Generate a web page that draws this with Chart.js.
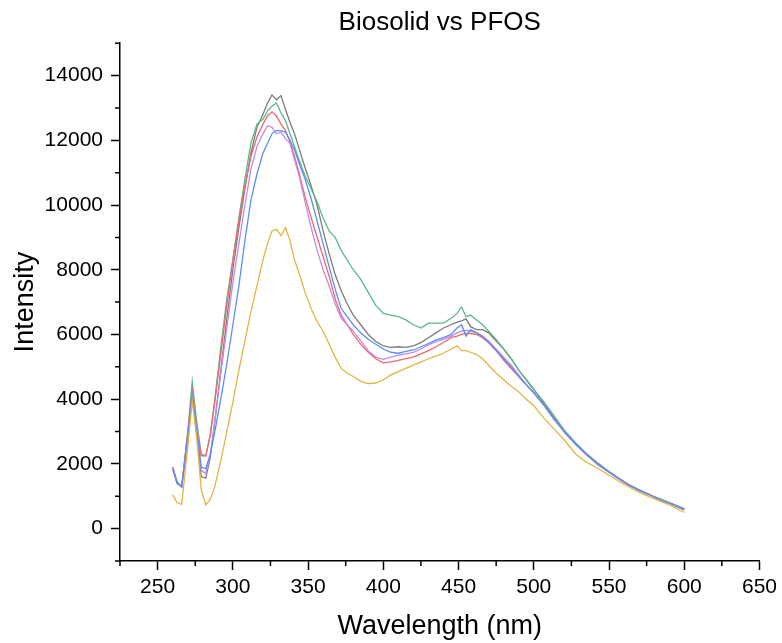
<!DOCTYPE html>
<html>
<head>
<meta charset="utf-8">
<script src="https://cdn.jsdelivr.net/npm/chart.js@4/dist/chart.umd.min.js"></script>
<style>
  html, body { margin: 0; padding: 0; background: #fff; }
</style>
</head>
<body>
<canvas id="spectra" width="782" height="643"></canvas>
<script>
// wavelengths (nm) shared by all curves
const wavelengths = [260, 263, 266, 270, 273, 276, 279, 282, 285, 288, 292, 296, 300, 304, 308, 312, 316, 320, 323, 326,
  329, 332, 335, 338, 341, 344, 348, 352, 356, 360, 364, 368, 372, 376, 380, 385, 390, 395, 400, 405,
  410, 415, 420, 425, 430, 435, 440, 445, 449, 452, 455, 458, 462, 466, 470, 475, 480, 485, 490, 495,
  500, 507, 514, 521, 528, 535, 542, 549, 556, 563, 570, 577, 584, 591, 600]

const graySeries = [1900, 1450, 1280, 2900, 4200, 3000, 1600, 1560, 2200, 3300, 4900, 6500, 8000, 9300, 10500, 11600, 12400, 12800, 13150, 13400,
  13250, 13380, 12950, 12550, 12200, 11750, 11150, 10600, 10000, 9200, 8500, 7850, 7350, 6950, 6600, 6300, 6000, 5780, 5650, 5600,
  5620, 5600, 5650, 5750, 5900, 6050, 6200, 6300, 6380, 6420, 6480, 6240, 6150, 6150, 6050, 5800, 5550, 5250, 4900, 4600,
  4300, 3850, 3400, 2950, 2600, 2300, 2030, 1780, 1560, 1350, 1200, 1050, 900, 780, 600]

const greenSeries = [1850, 1400, 1300, 3000, 4550, 3300, 2300, 2250, 2900, 4000, 5600, 7100, 8300, 9600, 10800, 11900, 12500, 12650, 12900, 13050,
  13150, 12850, 12600, 12200, 11800, 11400, 10900, 10500, 10100, 9600, 9200, 9000, 8600, 8300, 8000, 7700, 7300, 6900, 6650, 6600,
  6550, 6450, 6300, 6200, 6350, 6350, 6350, 6500, 6650, 6850, 6550, 6600, 6450, 6300, 6100, 5850, 5550, 5250, 4900, 4600,
  4300, 3900, 3450, 3000, 2650, 2320, 2050, 1800, 1570, 1370, 1200, 1050, 920, 790, 620]

const redSeries = [1900, 1400, 1300, 2900, 4250, 3100, 2250, 2250, 2900, 3900, 5400, 6900, 8300, 9500, 10600, 11500, 12100, 12500, 12750, 12880,
  12750, 12500, 12300, 11950, 11500, 11000, 10250, 9620, 9010, 8400, 7800, 7100, 6600, 6300, 6000, 5700, 5450, 5250, 5120, 5150,
  5200, 5250, 5300, 5400, 5500, 5620, 5750, 5900, 5950, 6000, 6030, 6030, 6000, 5900, 5750, 5500, 5200, 4950, 4700, 4450,
  4200, 3800, 3350, 2950, 2600, 2300, 2020, 1780, 1560, 1360, 1180, 1040, 900, 770, 600]

const purpleSeries = [1880, 1400, 1280, 2700, 4100, 3000, 1800, 1700, 2300, 3300, 4800, 6200, 7600, 8800, 10000, 11100, 11800, 12200, 12450, 12400,
  12200, 12250, 12050, 11900, 11400, 10900, 10100, 9300, 8600, 8000, 7500, 6950, 6500, 6300, 6100, 5800, 5500, 5300, 5230, 5300,
  5360, 5400, 5450, 5550, 5680, 5780, 5850, 5950, 6050, 6100, 6130, 6100, 6050, 5950, 5800, 5550, 5300, 5050, 4750, 4450,
  4200, 3800, 3350, 2950, 2600, 2280, 2000, 1770, 1550, 1350, 1180, 1040, 890, 770, 580]

const blueSeries = [1850, 1400, 1300, 2800, 4100, 3000, 1900, 1850, 2300, 3000, 4000, 5100, 6300, 7500, 8900, 10150, 10950, 11600, 11900, 12200,
  12300, 12300, 12250, 12000, 11700, 11300, 10800, 10200, 9500, 8800, 8090, 7400, 6800, 6550, 6300, 6050, 5850, 5700, 5550, 5450,
  5420, 5480, 5520, 5620, 5720, 5830, 5900, 6000, 6200, 6300, 5950, 6150, 6050, 5930, 5750, 5500, 5250, 5000, 4700, 4450,
  4200, 3800, 3350, 2950, 2600, 2300, 2000, 1780, 1560, 1350, 1180, 1040, 890, 770, 580]

const yellowSeries = [1050, 800, 750, 2500, 3950, 2800, 1200, 730, 900, 1300, 2100, 3000, 3900, 4900, 5800, 6700, 7500, 8300, 8800, 9200,
  9250, 9050, 9300, 8900, 8300, 7900, 7300, 6800, 6400, 6100, 5700, 5300, 4950, 4800, 4700, 4550, 4480, 4500, 4600, 4750,
  4850, 4950, 5050, 5150, 5250, 5330, 5420, 5550, 5650, 5500, 5500, 5450, 5380, 5250, 5050, 4800, 4600, 4400, 4230, 4000,
  3800, 3400, 3050, 2700, 2300, 2050, 1880, 1680, 1480, 1300, 1130, 980, 850, 720, 500]

// tick labels
const xTickValues = [250, 300, 350, 400, 450, 500, 550, 600, 650]
const yTickValues = [0, 2000, 4000, 6000, 8000, 10000, 12000, 14000]

const seriesList = [
  { name: "yellow", values: yellowSeries, color: "#e3b440" },
  { name: "blue", values: blueSeries, color: "#5a8ef5" },
  { name: "purple", values: purpleSeries, color: "#c48ae8" },
  { name: "red", values: redSeries, color: "#f2666e" },
  { name: "green", values: greenSeries, color: "#5cb887" },
  { name: "gray", values: graySeries, color: "#7d7d7d" }
]

const fontFamily = "'Liberation Sans', Arial, sans-serif"

// Origin style minor ticks, drawn through the scales
const minorTicks = {
  id: "minorTicks",
  afterDraw(chart) {
    const ctx = chart.ctx
    const xs = chart.scales.x
    const ys = chart.scales.y
    const area = chart.chartArea
    ctx.save()
    ctx.strokeStyle = "#000"
    ctx.lineWidth = 1.5
    ctx.beginPath()
    for (let v = 225; v <= 650; v += 50) {
      const px = xs.getPixelForValue(v)
      ctx.moveTo(px, area.bottom)
      ctx.lineTo(px, area.bottom + 5)
    }
    for (let v = -1000; v <= 15000; v += 2000) {
      const py = ys.getPixelForValue(v)
      ctx.moveTo(area.left, py)
      ctx.lineTo(area.left - 5, py)
    }
    ctx.stroke()
    ctx.restore()
  }
}

new Chart(document.getElementById("spectra"), {
  type: "line",
  data: {
    datasets: seriesList.map(s => ({
      label: s.name,
      data: s.values.map((v, i) => ({ x: wavelengths[i], y: v })),
      borderColor: s.color,
      borderWidth: 1.3,
      pointRadius: 0,
      fill: false,
      tension: 0
    }))
  },
  options: {
    responsive: false,
    animation: false,
    layout: { padding: { left: 0, right: 21, top: 0, bottom: 0 } },
    plugins: {
      legend: { display: false },
      tooltip: { enabled: false },
      title: {
        display: true,
        text: "Biosolid vs PFOS",
        fullSize: false,
        color: "#000",
        font: { family: fontFamily, size: 26, weight: "normal" },
        padding: { top: 7, bottom: 5 }
      }
    },
    scales: {
      x: {
        type: "linear",
        min: 225,
        max: 650,
        afterBuildTicks: scale => { scale.ticks = xTickValues.map(v => ({ value: v })) },
        afterFit: scale => { scale.height = 82 },
        border: { color: "#000", width: 1.5 },
        grid: { drawOnChartArea: false, drawTicks: true, tickLength: 9, tickColor: "#000", tickWidth: 1.5 },
        ticks: {
          padding: 5,
          color: "#000",
          maxRotation: 0,
          autoSkip: false,
          callback: v => String(v),
          font: { family: fontFamily, size: 21 }
        },
        title: {
          display: true,
          text: "Wavelength (nm)",
          color: "#000",
          font: { family: fontFamily, size: 27 },
          padding: 0
        }
      },
      y: {
        type: "linear",
        min: -1000,
        max: 15000,
        afterBuildTicks: scale => { scale.ticks = yTickValues.map(v => ({ value: v })) },
        afterFit: scale => { scale.width = 120 },
        border: { color: "#000", width: 1.5 },
        grid: { drawOnChartArea: false, drawTicks: true, tickLength: 9, tickColor: "#000", tickWidth: 1.5 },
        ticks: {
          padding: 8,
          color: "#000",
          autoSkip: false,
          callback: v => String(v),
          font: { family: fontFamily, size: 21 }
        },
        title: {
          display: true,
          text: "Intensity",
          color: "#000",
          font: { family: fontFamily, size: 27 },
          padding: 9
        }
      }
    }
  },
  plugins: [minorTicks]
})
</script>
</body>
</html>
